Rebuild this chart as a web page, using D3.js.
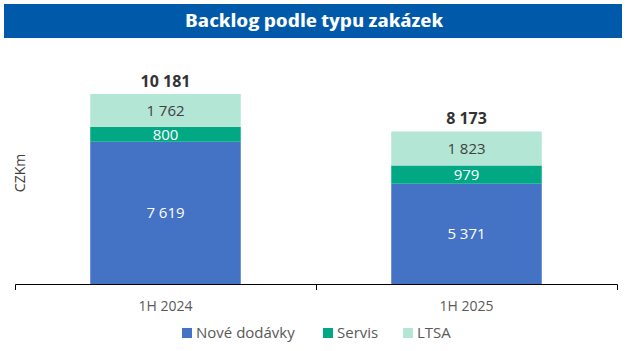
<!DOCTYPE html>
<html>
<head>
<meta charset="utf-8">
<script src="https://cdn.jsdelivr.net/npm/d3@7"></script>
<style>
  body { margin: 0; background: #fff; }
  svg { display: block; font-family: "Open Sans", "Noto Sans", sans-serif; }
</style>
</head>
<body>
<div id="chart"></div>
<script>
const categories = ["1H 2024", "1H 2025"];
const seriesNames = ["Nové dodávky", "Servis", "LTSA"];
const noveDodavky = [7619, 5371];
const servis = [800, 979];
const ltsa = [1762, 1823];
const totals = [10181, 8173];

const width = 628, height = 351;
const margin = {top: 60, right: 11, bottom: 67, left: 15};

const colors = ["#4472C4", "#00A884", "#B3E6D5"];
const labelColors = ["#ffffff", "#ffffff", "#404040"];

const data = categories.map((c, i) => ({
  cat: c,
  "Nové dodávky": noveDodavky[i],
  "Servis": servis[i],
  "LTSA": ltsa[i],
  total: totals[i]
}));

const stack = d3.stack().keys(seriesNames)(data);

const x = d3.scaleBand()
  .domain(categories)
  .range([margin.left, width - margin.right])
  .paddingInner(0)
  .paddingOuter(0);

const barW = x.bandwidth() * 0.5;

const y = d3.scaleLinear()
  .domain([0, 12000])
  .range([height - margin.bottom, margin.top]);

const fmt = v => d3.format(",")(v).replace(/,/g, " ");

const svg = d3.select("#chart").append("svg")
  .attr("width", width)
  .attr("height", height);

// title bar
svg.append("rect")
  .attr("x", 4).attr("y", 4)
  .attr("width", 618).attr("height", 34)
  .attr("fill", "#005AA9");

svg.append("text")
  .attr("x", 314).attr("y", 21)
  .attr("dy", "0.36em")
  .attr("text-anchor", "middle")
  .attr("fill", "#fff")
  .attr("font-size", 18)
  .attr("font-weight", "bold")
  .style("font-stretch", "condensed")
  .attr("textLength", 258)
  .attr("lengthAdjust", "spacingAndGlyphs")
  .text("Backlog podle typu zakázek");

// bars
const layer = svg.append("g")
  .selectAll("g")
  .data(stack)
  .join("g")
    .attr("fill", (d, i) => colors[i]);

layer.selectAll("rect")
  .data(d => d)
  .join("rect")
    .attr("x", d => x(d.data.cat) + (x.bandwidth() - barW) / 2)
    .attr("y", d => y(d[1]))
    .attr("width", barW)
    .attr("height", d => y(d[0]) - y(d[1]));

// segment labels
stack.forEach((s, si) => {
  svg.append("g")
    .selectAll("text")
    .data(s)
    .join("text")
      .attr("x", d => x(d.data.cat) + x.bandwidth() / 2)
      .attr("y", d => (y(d[0]) + y(d[1])) / 2)
      .attr("dy", "0.36em")
      .attr("text-anchor", "middle")
      .attr("font-size", 15)
      .attr("fill", labelColors[si])
      .text(d => fmt(d[1] - d[0]));
});

// totals
svg.append("g")
  .selectAll("text")
  .data(data)
  .join("text")
    .attr("x", d => x(d.cat) + x.bandwidth() / 2)
    .attr("y", d => y(d.total) - 13)
    .attr("dy", "0.36em")
    .attr("text-anchor", "middle")
    .attr("font-size", 16)
    .attr("font-weight", "bold")
    .attr("fill", "#333")
    .text(d => fmt(d.total));

// x axis
const xAxis = g => g
  .attr("transform", `translate(0,${y(0)})`)
  .call(d3.axisBottom(x).tickSize(0).tickSizeOuter(6))
  .call(g => g.select(".domain").attr("stroke", "#000"))
  .call(g => g.selectAll(".tick text")
    .attr("dy", "0.36em")
    .attr("y", 22)
    .attr("font-size", 14)
    .attr("font-family", "Open Sans, Noto Sans, sans-serif")
    .attr("fill", "#595959"));

svg.append("g").call(xAxis);

// middle separator tick
svg.append("line")
  .attr("x1", x(categories[1]) + 0.5).attr("x2", x(categories[1]) + 0.5)
  .attr("y1", y(0)).attr("y2", y(0) + 6)
  .attr("stroke", "#000");

// y label
svg.append("text")
  .attr("transform", `translate(20,${173}) rotate(-90)`)
  .attr("dy", "0.36em")
  .attr("text-anchor", "middle")
  .attr("font-size", 14)
  .attr("fill", "#404040")
  .text("CZKm");

// legend
const legendX = [182, 323, 403];
const legend = svg.append("g")
  .selectAll("g")
  .data(seriesNames)
  .join("g")
    .attr("transform", (d, i) => `translate(${legendX[i]},333)`);

legend.append("rect")
  .attr("x", 0).attr("y", -5)
  .attr("width", 10).attr("height", 10)
  .attr("fill", (d, i) => colors[i]);

legend.append("text")
  .attr("x", 14)
  .attr("dy", "0.36em")
  .attr("font-size", 15)
  .attr("fill", "#595959")
  .text(d => d);
</script>
</body>
</html>
